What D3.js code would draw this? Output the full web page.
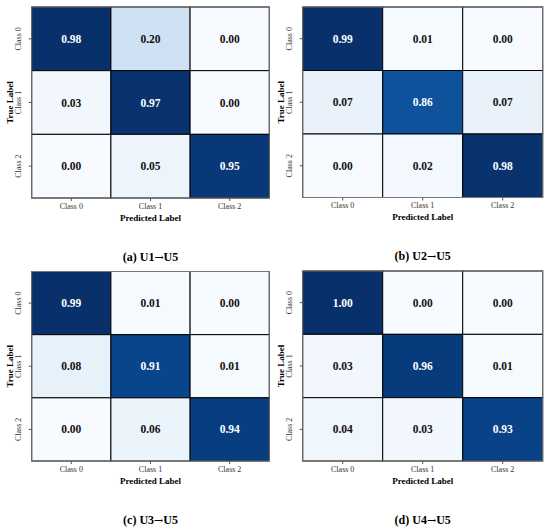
<!DOCTYPE html>
<html>
<head>
<meta charset="utf-8">
<script src="https://cdn.jsdelivr.net/npm/d3@7"></script>
<style>
  body { margin: 0; background: #fff; }
  svg { display: block; font-family: "Liberation Serif", "DejaVu Serif", serif; }
</style>
</head>
<body>
<div id="chart"></div>
<script>
// Setting up constants
const F_WIDTH = 550;
const F_HEIGHT = 531;

// data
const CLASSES = ["Class 0", "Class 1", "Class 2"];
const CAPTIONS = ["(a) U1→U5", "(b) U2→U5", "(c) U3→U5", "(d) U4→U5"];
const CM_A = [[0.98, 0.20, 0.00], [0.03, 0.97, 0.00], [0.00, 0.05, 0.95]];
const CM_B = [[0.99, 0.01, 0.00], [0.07, 0.86, 0.07], [0.00, 0.02, 0.98]];
const CM_C = [[0.99, 0.01, 0.00], [0.08, 0.91, 0.01], [0.00, 0.06, 0.94]];
const CM_D = [[1.00, 0.00, 0.00], [0.03, 0.96, 0.01], [0.04, 0.03, 0.93]];

// heatmap boxes for each panel
const PANELS = [
  {cm: CM_A, caption: CAPTIONS[0], x0: 31.7, x1: 269.3, y0: 7, y1: 198},
  {cm: CM_B, caption: CAPTIONS[1], x0: 302.7, x1: 542.7, y0: 7, y1: 197.5},
  {cm: CM_C, caption: CAPTIONS[2], x0: 31.7, x1: 269.3, y0: 271.5, y1: 461},
  {cm: CM_D, caption: CAPTIONS[3], x0: 302.7, x1: 542.7, y0: 271, y1: 461}
];

const FRAME = d3.select("#chart")
  .append("svg")
    .attr("width", F_WIDTH)
    .attr("height", F_HEIGHT);

PANELS.forEach((p) => {
  const cells = [];
  p.cm.forEach((row, i) => row.forEach((v, j) => cells.push({row: i, col: j, v: v})));

  const X_SCALE = d3.scaleBand().domain(CLASSES).range([p.x0, p.x1]);
  const Y_SCALE = d3.scaleBand().domain(CLASSES).range([p.y0, p.y1]);
  const vals = cells.map(d => d.v);
  const COLOR = d3.scaleSequential(d3.interpolateBlues).domain([d3.min(vals), d3.max(vals)]);

  const g = FRAME.append("g");

  // cells
  g.selectAll(".cell")
    .data(cells)
    .enter()
    .append("rect")
      .attr("x", d => X_SCALE(CLASSES[d.col]))
      .attr("y", d => Y_SCALE(CLASSES[d.row]))
      .attr("width", X_SCALE.bandwidth())
      .attr("height", Y_SCALE.bandwidth())
      .attr("fill", d => COLOR(d.v))
      .attr("stroke", "#000")
      .attr("stroke-width", 1);

  // annotations
  g.selectAll(".val")
    .data(cells)
    .enter()
    .append("text")
      .attr("x", d => X_SCALE(CLASSES[d.col]) + X_SCALE.bandwidth() / 2)
      .attr("y", d => Y_SCALE(CLASSES[d.row]) + Y_SCALE.bandwidth() / 2)
      .attr("dy", "0.35em")
      .attr("text-anchor", "middle")
      .attr("font-size", 11.5)
      .attr("font-weight", "bold")
      .attr("fill", d => (COLOR.domain()[1] - COLOR.domain()[0]) * 0.55 < d.v - COLOR.domain()[0] ? "#fff" : "#111")
      .text(d => d.v.toFixed(2));

  // outer frame
  g.append("rect")
    .attr("x", p.x0)
    .attr("y", p.y0)
    .attr("width", p.x1 - p.x0)
    .attr("height", p.y1 - p.y0)
    .attr("fill", "none")
    .attr("stroke", "#777")
    .attr("stroke-width", 1);

  // x axis
  const xAxis = g.append("g")
    .attr("transform", "translate(0," + p.y1 + ")")
    .call(d3.axisBottom(X_SCALE).tickSize(3).tickSizeOuter(0).tickPadding(2));
  xAxis.select(".domain").remove();
  xAxis.selectAll("line").attr("stroke", "#555");
  xAxis.selectAll("text")
    .attr("font-family", "Liberation Serif")
    .attr("font-size", 8)
    .attr("fill", "#333");

  // y axis, rotated labels
  const yAxis = g.append("g")
    .attr("transform", "translate(" + p.x0 + ",0)")
    .call(d3.axisLeft(Y_SCALE).tickSize(3).tickSizeOuter(0));
  yAxis.select(".domain").remove();
  yAxis.selectAll("line").attr("stroke", "#555");
  yAxis.selectAll("text")
    .attr("font-family", "Liberation Serif")
    .attr("font-size", 8)
    .attr("fill", "#333")
    .attr("text-anchor", "middle")
    .attr("x", 0)
    .attr("dy", 0)
    .attr("transform", "translate(-10.5,0) rotate(-90)");

  const cx = (p.x0 + p.x1) / 2;

  // axis titles
  g.append("text")
    .attr("x", cx)
    .attr("y", p.y1 + 19.5)
    .attr("dy", "0.35em")
    .attr("text-anchor", "middle")
    .attr("font-size", 9)
    .attr("font-weight", "bold")
    .text("Predicted Label");

  g.append("text")
    .attr("transform", "translate(" + (p.x0 - 21.5) + "," + ((p.y0 + p.y1) / 2) + ") rotate(-90)")
    .attr("dy", "0.35em")
    .attr("text-anchor", "middle")
    .attr("font-size", 9)
    .attr("font-weight", "bold")
    .text("True Label");

  // caption, arrow drawn from DejaVu so it is full size
  const parts = p.caption.split("→");
  const cap = g.append("text")
    .attr("x", cx)
    .attr("y", p.y1 + 58.5)
    .attr("dy", "0.35em")
    .attr("text-anchor", "middle")
    .attr("font-size", 12)
    .attr("font-weight", "bold");
  cap.append("tspan").text(parts[0]);
  cap.append("tspan")
    .attr("font-family", "DejaVu Serif")
    .attr("font-weight", "normal")
    .attr("font-size", 11)
    .text("→");
  cap.append("tspan").text(parts[1]);
});
</script>
</body>
</html>
